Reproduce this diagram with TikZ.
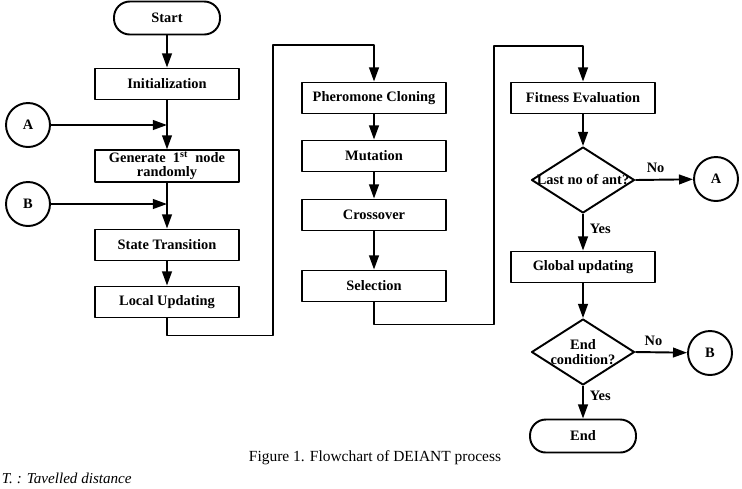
\documentclass[tikz,border=0pt]{standalone}
\usepackage{fontspec}
\setmainfont{Liberation Serif}
\usetikzlibrary{arrows.meta,shapes.geometric}
\begin{document}
\begin{tikzpicture}[x=0.02cm,y=-0.02cm,line join=round,line width=1.1pt,>={Triangle[length=8pt,width=5.5pt]},
	box/.style={draw,minimum width=2.88cm,minimum height=0.62cm,font=\bfseries\fontsize{8.2}{9}\selectfont},
	term/.style={draw,rounded corners=9pt,minimum width=2.12cm,minimum height=0.66cm,font=\bfseries\fontsize{8.2}{9}\selectfont},
	conn/.style={draw,circle,minimum size=0.88cm,inner sep=0pt,font=\bfseries\fontsize{8.2}{9}\selectfont},
	decide/.style={draw,diamond,minimum width=2.06cm,minimum height=1.32cm,inner sep=0pt,label={[align=center,font=\bfseries\fontsize{8.2}{9}\selectfont]center:#1}},
	lbl/.style={font=\bfseries\fontsize{8.2}{9}\selectfont}]
	\useasboundingbox (0,0) rectangle (742,488);
	% first column
	\node[term] (start) at (167,18) {Start};
	\node[box] (init) at (167,84) {Initialization};
	\node[box,align=center,inner sep=1pt,font=\bfseries\fontsize{8.2}{8}\selectfont] (gen) at (167,166) {Generate\ \ 1\textsuperscript{st}\ \ node\\randomly};
	\node[box] (state) at (167,245) {State Transition};
	\node[box] (local) at (167,302) {Local Updating};
	\node[conn] (ca) at (28,125) {A};
	\node[conn] (cb) at (28,204) {B};
	% second column
	\node[box] (clone) at (374,98) {Pheromone Cloning};
	\node[box] (mut) at (374,156) {Mutation};
	\node[box] (cross) at (374,215) {Crossover};
	\node[box] (sel) at (374,286) {Selection};
	% third column
	\node[box] (fit) at (583,98) {Fitness Evaluation};
	\node[decide={Last no of ant?}] (last) at (583,180) {};
	\node[conn] (ca2) at (716,179) {A};
	\node[box] (glob) at (583,267) {Global updating};
	\node[decide={End\\condition?}] (endc) at (583,352) {};
	\node[conn] (cb2) at (710,353) {B};
	\node[term] (stop) at (583,436) {End};
	\coordinate (up1) at (273,45);
	\coordinate (up2) at (494,46);
	% connectors
	\draw[->] (start) -- (init);
	\draw[->] (init) -- (gen);
	\draw[->] (ca) -- (init.south |- ca);
	\draw[->] (gen) -- (state);
	\draw[->] (cb) -- (gen.south |- cb);
	\draw[->] (state) -- (local);
	\draw[->] (local.south) -- ++(0,17) -| (up1) -| (clone.north);
	\draw[->] (clone) -- (mut);
	\draw[->] (mut) -- (cross);
	\draw[->] (cross) -- (sel);
	\draw[->] (sel.south) -- ++(0,22) -| (up2) -| (fit.north);
	\draw[->] (fit) -- (last);
	\draw[->] (last.east) -- node[lbl,above,pos=.35]{No} (ca2);
	\draw[->] (last.south) -- node[lbl,right,pos=.4]{Yes} (glob);
	\draw[->] (glob) -- (endc);
	\draw[->] (endc.east) -- node[lbl,above,pos=.35]{No} (cb2);
	\draw[->] (endc.south) -- node[lbl,right,pos=.3]{Yes} (stop);
	% caption
	\node[font=\fontsize{8.8}{10}\selectfont] (cap) at (375,458) {Figure 1. Flowchart of DEIANT process};
	\node[font=\itshape\fontsize{8.6}{10}\selectfont,anchor=west,inner sep=0pt] (note) at (1,478) {T. : Tavelled distance};
\end{tikzpicture}
\end{document}
